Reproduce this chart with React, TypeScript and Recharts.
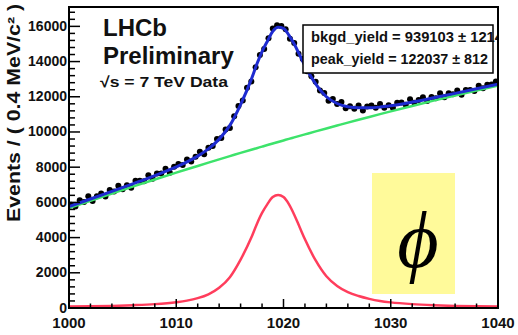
import { ComposedChart, Line, Scatter, XAxis, YAxis, ReferenceArea } from 'recharts';

// data histogram, 0.4 MeV bins
const BIN_CENTERS = [
  1000.2, 1000.6, 1001, 1001.4, 1001.8, 1002.2, 1002.6, 1003, 1003.4, 1003.8,
  1004.2, 1004.6, 1005, 1005.4, 1005.8, 1006.2, 1006.6, 1007, 1007.4, 1007.8,
  1008.2, 1008.6, 1009, 1009.4, 1009.8, 1010.2, 1010.6, 1011, 1011.4, 1011.8,
  1012.2, 1012.6, 1013, 1013.4, 1013.8, 1014.2, 1014.6, 1015, 1015.4, 1015.8,
  1016.2, 1016.6, 1017, 1017.4, 1017.8, 1018.2, 1018.6, 1019, 1019.4, 1019.8,
  1020.2, 1020.6, 1021, 1021.4, 1021.8, 1022.2, 1022.6, 1023, 1023.4, 1023.8,
  1024.2, 1024.6, 1025, 1025.4, 1025.8, 1026.2, 1026.6, 1027, 1027.4, 1027.8,
  1028.2, 1028.6, 1029, 1029.4, 1029.8, 1030.2, 1030.6, 1031, 1031.4, 1031.8,
  1032.2, 1032.6, 1033, 1033.4, 1033.8, 1034.2, 1034.6, 1035, 1035.4, 1035.8,
  1036.2, 1036.6, 1037, 1037.4, 1037.8, 1038.2, 1038.6, 1039, 1039.4, 1039.8,
];
const BIN_COUNTS = [
  5860, 5770, 6125, 6020, 6350, 6085, 6350, 6500, 6330, 6705,
  6615, 6940, 6750, 6980, 6825, 7225, 7225, 7205, 7545, 7345,
  7640, 7640, 7910, 7690, 8020, 8175, 8120, 8430, 8320, 8590,
  8880, 8735, 9100, 9210, 9600, 9660, 10140, 10220, 10890, 11470,
  11790, 12510, 12870, 13680, 14380, 14720, 15320, 15880, 16070, 16020,
  15830, 15290, 15060, 14450, 14150, 13450, 13170, 12850, 12350, 12210,
  11770, 11870, 11590, 11710, 11350, 11460, 11320, 11510, 11220, 11450,
  11510, 11370, 11590, 11380, 11520, 11380, 11660, 11670, 11540, 11860,
  11660, 11810, 11970, 11760, 11980, 11910, 12200, 11970, 12200, 12140,
  12350, 12120, 12390, 12390, 12330, 12630, 12480, 12690, 12700, 12870,
];

// fit curves
const CURVE_MASS = [
  1000, 1002, 1004, 1006, 1008, 1010, 1011, 1012, 1013, 1014, 1015, 1016, 1017, 1017.5,
  1018, 1018.5, 1019, 1019.5, 1020, 1020.5, 1021, 1021.5, 1022, 1023, 1024, 1025, 1026,
  1027, 1028, 1029, 1030, 1032, 1034, 1036, 1038, 1040,
];
const BKG = [
  5680, 6096, 6506, 6908, 7302, 7690, 7881, 8070, 8258, 8444, 8627, 8810, 8990, 9079,
  9168, 9257, 9345, 9433, 9520, 9607, 9693, 9779, 9864, 10034, 10202, 10367, 10532,
  10694, 10854, 11013, 11170, 11478, 11780, 12074, 12360, 12640,
];
const SIGNAL = [
  80, 95, 120, 160, 220, 330, 420, 560, 780, 1150, 1750, 2750, 4000, 4750,
  5400, 5900, 6300, 6420, 6300, 5900, 5300, 4600, 3900, 2700, 1800, 1250, 900,
  680, 520, 400, 320, 220, 160, 120, 95, 80,
];
const TOTAL = [
  5760, 6191, 6626, 7068, 7522, 8020, 8301, 8630, 9038, 9594, 10377, 11560, 12990, 13829,
  14568, 15157, 15720, 15950, 15880, 15507, 14993, 14379, 13764, 12734, 12002, 11617, 11432,
  11374, 11374, 11413, 11490, 11698, 11940, 12194, 12455, 12720,
];

const X_TICKS = [1000, 1002, 1004, 1006, 1008, 1010, 1012, 1014, 1016, 1018, 1020, 1022, 1024, 1026, 1028, 1030, 1032, 1034, 1036, 1038, 1040];
const Y_TICKS = Array.from({ length: 43 }, (_, i) => i * 400);
const X_DOMAIN: [number, number] = [1000, 1040];
const Y_DOMAIN: [number, number] = [0, 17100];

const points = BIN_CENTERS.map((m, i) => ({ m, v: BIN_COUNTS[i] }));
const curves = CURVE_MASS.map((m, i) => ({ m, bkg: BKG[i], sig: SIGNAL[i], tot: TOTAL[i] }));

const FONT = '"Liberation Sans", Arial, Helvetica, sans-serif';

function BottomTick({ x, y, payload }: any) {
  const major = payload.value % 10 === 0;
  return (
    <g>
      <line x1={x} x2={x} y1={y} y2={y - (major ? 9 : 4.5)} stroke="#000" strokeWidth={1.5} />
      {major && (
        <text x={x} y={y + 20} textAnchor="middle" fontFamily={FONT} fontWeight="bold" fontSize={15} fill="#111">
          {payload.value}
        </text>
      )}
    </g>
  );
}

function TopTick({ x, y, payload }: any) {
  const major = payload.value % 10 === 0;
  return <line x1={x} x2={x} y1={y} y2={y + (major ? 9 : 4.5)} stroke="#000" strokeWidth={1.5} />;
}

function LeftTick({ x, y, payload }: any) {
  const major = payload.value % 2000 === 0;
  return (
    <g>
      <line x1={x} x2={x + (major ? 11 : 6)} y1={y} y2={y} stroke="#000" strokeWidth={1.5} />
      {major && (
        <text x={x - 2} y={y + 4.5} textAnchor="end" fontFamily={FONT} fontWeight="bold" fontSize={14} fill="#111">
          {payload.value}
        </text>
      )}
    </g>
  );
}

function RightTick({ x, y, payload }: any) {
  const major = payload.value % 2000 === 0;
  return <line x1={x} x2={x - (major ? 11 : 6)} y1={y} y2={y} stroke="#000" strokeWidth={1.5} />;
}

export default function App() {
  return (
    <div style={{ position: 'absolute', left: 0, top: 0, width: 518, height: 335, background: '#fff' }}>
      <ComposedChart width={518} height={335} margin={{ top: 7, right: 20, bottom: 0, left: 0 }}>
        <XAxis
          xAxisId="b" type="number" dataKey="m" domain={X_DOMAIN} ticks={X_TICKS} interval={0}
          allowDataOverflow axisLine={false} tickLine={false} tickSize={0} tickMargin={0}
          height={27} tick={<BottomTick />}
        />
        <XAxis
          xAxisId="t" orientation="top" type="number" domain={X_DOMAIN} ticks={X_TICKS} interval={0}
          allowDataOverflow axisLine={false} tickLine={false} tickSize={0} tickMargin={0}
          height={0} tick={<TopTick />}
        />
        <YAxis
          yAxisId="l" type="number" domain={Y_DOMAIN} ticks={Y_TICKS} interval={0}
          allowDataOverflow axisLine={false} tickLine={false} tickSize={0} tickMargin={0}
          width={69} tick={<LeftTick />}
        />
        <YAxis
          yAxisId="r" orientation="right" type="number" domain={Y_DOMAIN} ticks={Y_TICKS} interval={0}
          allowDataOverflow axisLine={false} tickLine={false} tickSize={0} tickMargin={0}
          width={0} tick={<RightTick />}
        />
        <Scatter
          xAxisId="b" yAxisId="l" data={points} dataKey="v" isAnimationActive={false}
          shape={(p: any) => <circle cx={p.cx} cy={p.cy} r={3} fill="#000" />}
        />
        <Line xAxisId="b" yAxisId="l" data={curves} dataKey="bkg" type="monotone" stroke="#3de36b" strokeWidth={2.5} dot={false} isAnimationActive={false} zIndex={700} />
        <Line xAxisId="b" yAxisId="l" data={curves} dataKey="sig" type="monotone" stroke="#ff3d5c" strokeWidth={2.5} dot={false} isAnimationActive={false} zIndex={700} />
        <Line xAxisId="b" yAxisId="l" data={curves} dataKey="tot" type="monotone" stroke="#1e2bd0" strokeWidth={3} dot={false} isAnimationActive={false} zIndex={710} />
        <ReferenceArea
          xAxisId="b" yAxisId="l" x1={1000} x2={1040} y1={0} y2={17100}
          fill="none" fillOpacity={0} stroke="#000" strokeWidth={2} ifOverflow="visible" zIndex={800}
        />
      </ComposedChart>

      <svg width={518} height={335} style={{ position: 'absolute', left: 0, top: 0, pointerEvents: 'none' }}>
        <defs>
          <clipPath id="legclip">
            <rect x={300} y={20} width={197} height={60} />
          </clipPath>
        </defs>
        <text
          transform="translate(20,4) rotate(-90)" textAnchor="end" fontFamily={FONT} fontWeight="bold"
          fontSize={18} fill="#111" textLength={218} lengthAdjust="spacingAndGlyphs"
        >
          Events / ( 0.4 MeV/c² )
        </text>
        <text x={103} y={36} fontFamily={FONT} fontWeight="bold" fontSize={24} fill="#111">LHCb</text>
        <text x={103} y={64} fontFamily={FONT} fontWeight="bold" fontSize={24} fill="#111">Preliminary</text>
        <text x={100} y={87} fontFamily={FONT} fontWeight="bold" fontSize={15} fill="#111" textLength={128} lengthAdjust="spacingAndGlyphs">
          √s = 7 TeV Data
        </text>

        <rect x={303} y={25} width={190} height={48} fill="#fff" stroke="#000" strokeWidth={1.5} />
        <g clipPath="url(#legclip)">
          <text x={311} y={42} fontFamily={FONT} fontWeight="bold" fontSize={14} fill="#111" textLength={192} lengthAdjust="spacingAndGlyphs">
            bkgd_yield = 939103 ± 1214
          </text>
          <text x={311} y={64} fontFamily={FONT} fontWeight="bold" fontSize={14} fill="#111" textLength={177} lengthAdjust="spacingAndGlyphs">
            peak_yield = 122037 ± 812
          </text>
        </g>

        <rect x={372} y={173} width={83} height={121} fill="#fffa9a" />
        <text x={418} y={267} textAnchor="middle" fontFamily='"Liberation Serif", "DejaVu Serif", serif' fontStyle="italic" fontSize={80} fill="#000">
          ϕ
        </text>
      </svg>
    </div>
  );
}
